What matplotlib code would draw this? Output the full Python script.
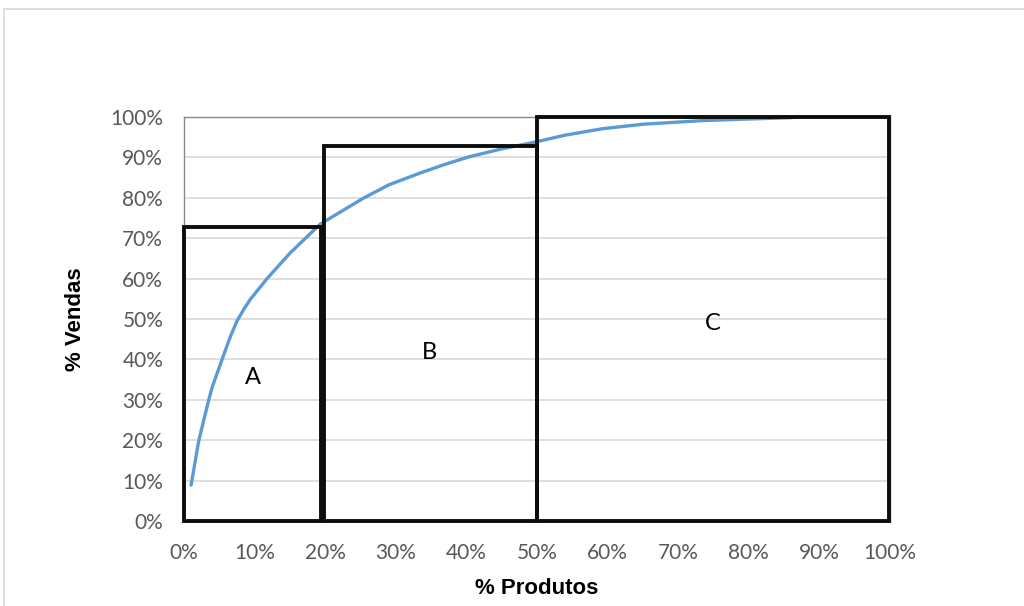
import matplotlib
matplotlib.use("Agg")
import matplotlib.pyplot as plt
from matplotlib.patches import Rectangle
from matplotlib.ticker import PercentFormatter

# curva ABC
pct_produtos = [0.01, 0.021, 0.035, 0.04, 0.057, 0.066, 0.075, 0.085, 0.094, 0.1176,
                0.15, 0.193, 0.254, 0.29, 0.334, 0.37, 0.405, 0.45, 0.495, 0.54,
                0.593, 0.65, 0.734, 0.80, 0.857, 0.87]
pct_vendas = [0.089, 0.20, 0.30, 0.332, 0.415, 0.458, 0.495, 0.525, 0.549, 0.60,
              0.663, 0.735, 0.799, 0.832, 0.861, 0.883, 0.902, 0.921, 0.937, 0.955,
              0.971, 0.982, 0.991, 0.995, 0.998, 1.0]

# classes: nome, x inicio, x fim, altura, posicao do rotulo
classes = ["A", "B", "C"]
x_inicio = [0.0, 0.198, 0.50]
x_fim = [0.194, 0.50, 0.998]
altura = [0.728, 0.928, 1.0]
rotulo_x = [0.098, 0.347, 0.749]
rotulo_y = [0.356, 0.418, 0.49]

fig = plt.figure(figsize=(10.24, 6.06), dpi=100)
ax = fig.add_axes([0.1797, 0.140, 0.6895, 0.667])

# borda cinza da area do grafico
fig.patches.append(Rectangle((4 / 1024, -0.05), 1.1, 1 - 9 / 606 + 0.05,
                             transform=fig.transFigure, fill=False,
                             edgecolor="#D9D9D9", lw=1.2))

ax.plot(pct_produtos, pct_vendas, color="#5B9BD5", lw=2.4,
        solid_capstyle="round", solid_joinstyle="round", zorder=3)

for nome, x0, x1, h, tx, ty in zip(classes, x_inicio, x_fim, altura, rotulo_x, rotulo_y):
    ax.add_patch(Rectangle((x0, 0), x1 - x0, h, fill=False, edgecolor="#0D0D0D",
                           lw=2.8, clip_on=False, zorder=4))
    ax.text(tx, ty, nome, fontsize=17, ha="center", va="center",
            family="Lato", color="black")

ax.set_xlim(0, 1)
ax.set_ylim(0, 1)
ax.set_xticks([i / 10 for i in range(11)])
ax.set_yticks([i / 10 for i in range(11)])
ax.xaxis.set_major_formatter(PercentFormatter(1.0, decimals=0))
ax.yaxis.set_major_formatter(PercentFormatter(1.0, decimals=0))
ax.tick_params(length=0, labelsize=15, colors="#595959")
ax.tick_params(axis="x", pad=16)
ax.tick_params(axis="y", pad=15)
for lab in ax.get_xticklabels() + ax.get_yticklabels():
    lab.set_family("Lato")

ax.grid(axis="y", color="#D9D9D9", lw=1.2)
ax.set_axisbelow(True)
for s in ax.spines.values():
    s.set_color("#898989")
    s.set_linewidth(1.0)

ax.set_xlabel("% Produtos", fontsize=16, fontweight="bold", family="Liberation Sans")
ax.set_ylabel("% Vendas", fontsize=16, fontweight="bold", family="Liberation Sans")
ax.xaxis.label.set_va("center")
ax.yaxis.label.set_va("center")
ax.xaxis.set_label_coords(0.5, -0.166)
ax.yaxis.set_label_coords(-0.154, 0.5)

fig.savefig("out.png", dpi=100)
